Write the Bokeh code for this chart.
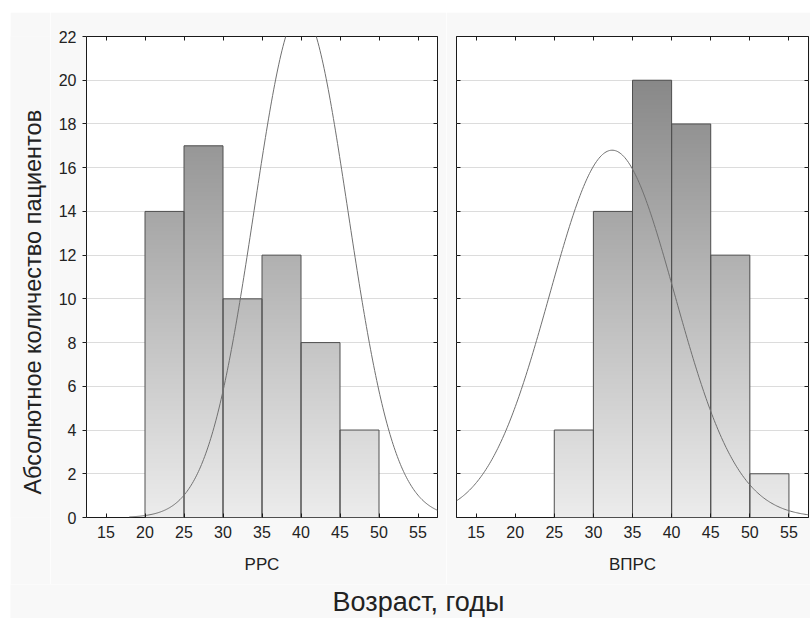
import numpy as np
from bokeh.plotting import figure
from bokeh.layouts import row, column
from bokeh.models import Range1d, LinearAxis, FixedTicker, CustomJSTickFormatter, Grid
from bokeh.core.properties import value
from bokeh.embed import file_html
from bokeh.resources import INLINE

# Age histograms (5-year bins), counts of patients per bin
bin_width = 5
ppc_bin_left = [20, 25, 30, 35, 40, 45]
ppc_counts = [14, 17, 10, 12, 8, 4]
vprs_bin_left = [25, 30, 35, 40, 45, 50]
vprs_counts = [4, 14, 20, 18, 12, 2]

# Fitted normal curves: mean, sd, peak height, first x drawn
ppc_fit = dict(mean=40.0, sd=6.0, peak=23.2, start=18.0)
vprs_fit = dict(mean=32.4, sd=8.0, peak=16.8, start=12.5)

x_ticks = [15, 20, 25, 30, 35, 40, 45, 50, 55]
y_ticks = [0, 2, 4, 6, 8, 10, 12, 14, 16, 18, 20, 22]
x_lo, x_hi = 12.5, 57.5
y_lo, y_hi = 0, 22

FONT = "Liberation Sans"
TXT = "#222222"
BG = "#f8f8f8"
PANEL_H = 572


def shade(y):
    g = int(round(236 - 5 * y))
    return "#%02x%02x%02x" % (g, g, g)


def blank_formatter():
    return CustomJSTickFormatter(code="return ''")


def make_panel(bin_left, counts, fit, label, with_y_labels, mb_left, mb_right):
    p = figure(x_range=Range1d(x_lo, x_hi), y_range=Range1d(y_lo, y_hi),
               frame_width=351 if with_y_labels else 352, frame_height=481,
               x_axis_location=None, y_axis_location=None,
               min_border_left=mb_left, min_border_right=mb_right,
               min_border_top=24, min_border_bottom=67,
               background_fill_color="white", border_fill_color=BG,
               outline_line_color="#1a1a1a", outline_line_width=1,
               output_backend="svg", toolbar_location=None)
    for g in p.grid:
        g.visible = False

    p.add_layout(Grid(dimension=1, ticker=FixedTicker(ticks=y_ticks[1:-1]),
                      grid_line_color="#dcdcdc", grid_line_width=1))

    # vertical gradient fill: thin overlapping horizontal slices inside each bar
    dy = 0.1
    sl, sr, sb, st, sc = [], [], [], [], []
    for left, c in zip(bin_left, counts):
        for b in np.arange(0, c, dy):
            sl.append(left)
            sr.append(left + bin_width)
            sb.append(b)
            st.append(min(b + 2 * dy, c))
            sc.append(shade(b + dy / 2))
    p.quad(left=sl, right=sr, bottom=sb, top=st, fill_color=sc, line_color=None)

    lefts = np.array(bin_left, dtype=float)
    p.quad(left=lefts, right=lefts + bin_width, bottom=0, top=counts,
           fill_alpha=0, line_color="#505050", line_width=1)

    xs = np.linspace(fit["start"], x_hi, 300)
    ys = fit["peak"] * np.exp(-0.5 * ((xs - fit["mean"]) / fit["sd"]) ** 2)
    p.line(xs, ys, line_color="#707070", line_width=1)

    axis_kw = dict(axis_line_color=None, major_tick_line_color="#1a1a1a",
                   minor_tick_line_color=None,
                   major_label_text_font=FONT, major_label_text_font_size="16px",
                   major_label_text_color=TXT,
                   axis_label_text_font=FONT, axis_label_text_font_style="normal",
                   axis_label_text_color=TXT)

    bottom = LinearAxis(ticker=FixedTicker(ticks=x_ticks), axis_label=label,
                        major_tick_in=4, major_tick_out=0, major_label_standoff=8,
                        axis_label_text_font_size="17px", axis_label_standoff=14,
                        **axis_kw)
    p.add_layout(bottom, "below")

    top = LinearAxis(ticker=FixedTicker(ticks=x_ticks), formatter=blank_formatter(),
                     major_tick_in=4, major_tick_out=0, major_label_standoff=0, **axis_kw)
    p.add_layout(top, "above")

    if with_y_labels:
        left_axis = LinearAxis(ticker=FixedTicker(ticks=y_ticks),
                               major_tick_in=0, major_tick_out=4, major_label_standoff=6,
                               **axis_kw)
    else:
        left_axis = LinearAxis(ticker=FixedTicker(ticks=y_ticks), formatter=blank_formatter(),
                               major_tick_in=4, major_tick_out=0, major_label_standoff=0,
                               **axis_kw)
    p.add_layout(left_axis, "left")

    right_axis = LinearAxis(ticker=FixedTicker(ticks=y_ticks), formatter=blank_formatter(),
                            major_tick_in=4, major_tick_out=0, major_label_standoff=0,
                            **axis_kw)
    p.add_layout(right_axis, "right")
    return p


def text_strip(width, height, x, y, text, size, angle=0.0):
    s = figure(x_range=Range1d(0, width), y_range=Range1d(0, height),
               width=width, height=height,
               x_axis_location=None, y_axis_location=None, min_border=0,
               background_fill_color=BG, border_fill_color=BG, outline_line_color=None,
               output_backend="svg", toolbar_location=None)
    for g in s.grid:
        g.visible = False
    s.text(x=[x], y=[y], text=[text], angle=angle, text_align="center",
           text_baseline="middle", text_font=value(FONT), text_font_size=size,
           text_color=TXT)
    return s


# vertical y-axis title strip on the left
p0 = text_strip(40, PANEL_H, 22, 256, "Абсолютное количество пациентов",
                "23.5px", angle=np.pi / 2)
p1 = make_panel(ppc_bin_left, ppc_counts, ppc_fit, "РРС", True, 36, 9)
p2 = make_panel(vprs_bin_left, vprs_counts, vprs_fit, "ВПРС", False, 10, 2)

# common x-axis title strip
p3 = text_strip(800, 34, 408, 17, "Возраст, годы", "27px")

layout = column(row(p0, p1, p2, spacing=0), p3, margin=(12, 0, 0, 10), spacing=0)

open("out.html", "w").write(file_html(layout, INLINE))
